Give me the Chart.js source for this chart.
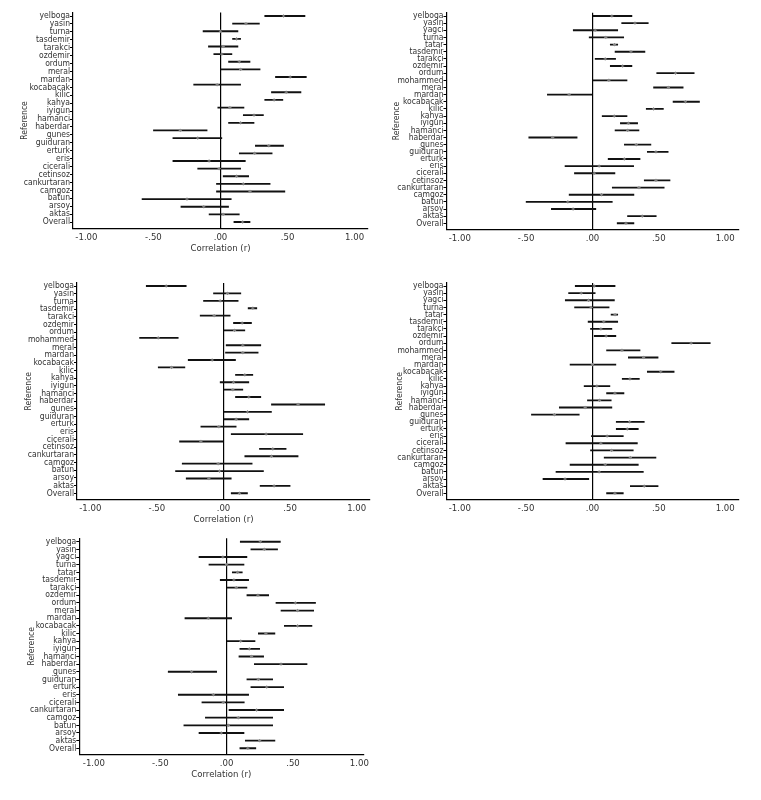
<!DOCTYPE html>
<html>
<head>
<meta charset="utf-8">
<script src="https://cdn.jsdelivr.net/npm/chart.js@4.4.0/dist/chart.umd.min.js"></script>
<style>
  body { margin: 0; background: #fff; width: 761px; height: 800px; position: relative; overflow: hidden; }
  canvas { position: absolute; }
</style>
</head>
<body>
<canvas id="p1"></canvas>
<canvas id="p2"></canvas>
<canvas id="p3"></canvas>
<canvas id="p4"></canvas>
<canvas id="p5"></canvas>
<script>
const xTickValues = [-1, -0.5, 0, 0.5, 1];
const xTickLabels = ["-1.00", "-.50", ".00", ".50", "1.00"];

// panel 1 (top left): one more row of estimates than labels, as in the figure
const labels1 = ["yelboga", "yasin", "turna", "tasdemir", "tarakci", "ozdemir", "ordum", "meral", "mardan",
  "kocabacak", "kilic", "kahya", "iyigun", "hamanci", "haberdar", "gunes", "guiduran", "erturk", "eris",
  "cicerali", "cetinsoz", "cankurtaran", "camgoz", "batun", "arsoy", "aktas", "Overall"];
const est1 = [0.47, 0.19, 0.00, 0.12, 0.02, 0.01, 0.14, 0.15, 0.52, -0.025, 0.49, 0.40, 0.07, 0.25, 0.15,
  -0.30, -0.17, 0.36, 0.255, -0.085, -0.01, 0.12, 0.17, 0.22, -0.25, -0.125, 0.02, 0.165];
const lo1 = [0.33, 0.09, -0.13, 0.09, -0.09, -0.05, 0.06, 0.00, 0.41, -0.20, 0.38, 0.33, -0.02, 0.17, 0.06,
  -0.50, -0.355, 0.26, 0.14, -0.355, -0.17, 0.02, -0.03, -0.03, -0.585, -0.295, -0.085, 0.10];
const hi1 = [0.63, 0.29, 0.13, 0.15, 0.13, 0.085, 0.22, 0.295, 0.64, 0.15, 0.60, 0.465, 0.175, 0.32, 0.25,
  -0.10, 0.01, 0.47, 0.385, 0.185, 0.15, 0.21, 0.37, 0.48, 0.08, 0.06, 0.14, 0.22];

// panel 2 (top right)
const labels2 = ["yelboga", "yasin", "yagci", "turna", "tatar", "tasdemir", "tarakci", "ozdemir", "ordum",
  "mohammed", "meral", "mardan", "kocabacak", "kilic", "kahya", "iyigun", "hamanci", "haberdar", "gunes",
  "guiduran", "erturk", "eris", "cicerali", "cetinsoz", "cankurtaran", "camgoz", "batun", "arsoy", "aktas", "Overall"];
const est2 = [0.146, 0.32, 0.02, 0.10, 0.166, 0.29, 0.096, 0.227, 0.625, 0.123, 0.572, -0.176, 0.70, 0.46,
  0.164, 0.27, 0.265, -0.30, 0.33, 0.478, 0.24, 0.05, 0.013, 0.478, 0.35, 0.068, -0.186, -0.146, 0.375, 0.252];
const lo2 = [0.00, 0.22, -0.145, -0.025, 0.134, 0.17, 0.02, 0.134, 0.484, 0.00, 0.46, -0.34, 0.607, 0.405,
  0.073, 0.21, 0.17, -0.48, 0.24, 0.413, 0.118, -0.207, -0.136, 0.39, 0.149, -0.176, -0.50, -0.31, 0.264, 0.186];
const hi2 = [0.297, 0.42, 0.19, 0.235, 0.19, 0.395, 0.174, 0.297, 0.766, 0.26, 0.683, 0.00, 0.806, 0.534,
  0.26, 0.34, 0.35, -0.116, 0.44, 0.57, 0.358, 0.31, 0.169, 0.584, 0.54, 0.312, 0.149, 0.025, 0.48, 0.312];

// panel 3 (middle left): one more row of estimates than labels
const labels3 = ["yelboga", "yasin", "turna", "tasdemir", "tarakci", "ozdemir", "ordum", "mohammed", "meral",
  "mardan", "kocabacak", "kilic", "kahya", "iyigun", "hamanci", "haberdar", "gunes", "guiduran", "erturk",
  "eris", "cicerali", "cetinsoz", "cankurtaran", "camgoz", "batun", "arsoy", "aktas", "Overall"];
const est3 = [-0.43, 0.03, -0.025, 0.22, -0.07, 0.14, 0.083, -0.49, 0.145, 0.145, -0.085, -0.39, 0.16, 0.075,
  0.07, 0.19, 0.56, 0.18, 0.095, -0.035, 0.32, -0.17, 0.37, 0.36, -0.04, -0.03, -0.11, 0.38, 0.12];
const lo3 = [-0.58, -0.075, -0.15, 0.185, -0.175, 0.075, 0.00, -0.63, 0.02, 0.015, -0.265, -0.49, 0.09, -0.025,
  0.00, 0.09, 0.36, 0.00, 0.00, -0.17, 0.058, -0.33, 0.27, 0.16, -0.31, -0.36, -0.28, 0.275, 0.058];
const hi3 = [-0.28, 0.13, 0.11, 0.25, 0.05, 0.21, 0.16, -0.34, 0.28, 0.26, 0.09, -0.29, 0.22, 0.19,
  0.145, 0.28, 0.76, 0.36, 0.19, 0.095, 0.595, 0.00, 0.47, 0.56, 0.215, 0.30, 0.058, 0.50, 0.18];

// panel 4 (middle right)
const labels4 = labels2;
const est4 = [0.013, -0.085, -0.03, -0.01, 0.17, 0.085, 0.063, 0.103, 0.743, 0.222, 0.385, 0.00, 0.514, 0.282,
  0.033, 0.169, 0.053, -0.055, -0.287, 0.28, 0.262, 0.11, 0.063, 0.144, 0.285, 0.096, 0.05, -0.207, 0.39, 0.169];
const lo4 = [-0.13, -0.18, -0.205, -0.135, 0.14, -0.033, -0.015, 0.013, 0.597, 0.106, 0.27, -0.169, 0.413, 0.224,
  -0.063, 0.106, -0.038, -0.25, -0.46, 0.179, 0.179, -0.008, -0.20, -0.015, 0.088, -0.169, -0.275, -0.373, 0.285, 0.106];
const hi4 = [0.17, 0.02, 0.165, 0.125, 0.19, 0.19, 0.146, 0.176, 0.887, 0.358, 0.494, 0.176, 0.615, 0.353,
  0.131, 0.237, 0.141, 0.146, -0.10, 0.39, 0.345, 0.232, 0.338, 0.307, 0.478, 0.345, 0.383, -0.028, 0.494, 0.232];

// panel 5 (bottom left)
const labels5 = ["yelboga", "yasin", "yagci", "turna", "tatar", "tasdemir", "tarakci", "ozdemir", "ordum",
  "meral", "mardan", "kocabacak", "kilic", "kahya", "iyigun", "hamanci", "haberdar", "gunes", "guiduran",
  "erturk", "eris", "cicerali", "cankurtaran", "camgoz", "batun", "arsoy", "aktas", "Overall"];
const est5 = [0.254, 0.284, -0.028, 0.00, 0.083, 0.055, 0.073, 0.236, 0.518, 0.535, -0.138, 0.535, 0.296, 0.106,
  0.171, 0.188, 0.41, -0.264, 0.239, 0.302, -0.10, -0.025, 0.226, 0.088, 0.013, -0.04, 0.249, 0.16];
const lo5 = [0.103, 0.183, -0.208, -0.133, 0.043, -0.048, 0.00, 0.153, 0.372, 0.41, -0.314, 0.435, 0.239, 0.00,
  0.10, 0.093, 0.209, -0.44, 0.153, 0.183, -0.364, -0.186, 0.018, -0.16, -0.322, -0.208, 0.141, 0.10];
const hi5 = [0.405, 0.384, 0.153, 0.131, 0.118, 0.166, 0.153, 0.317, 0.67, 0.656, 0.038, 0.643, 0.364, 0.214,
  0.249, 0.279, 0.606, -0.075, 0.347, 0.43, 0.166, 0.133, 0.43, 0.347, 0.347, 0.131, 0.364, 0.22];

const FONT = "'Liberation Sans Narrow', 'Arial Narrow', 'DejaVu Sans Condensed', sans-serif";
Chart.defaults.font.family = FONT;
Chart.defaults.color = "#333";

const panels = [
  { id: "p1", labels: labels1, est: est1, lo: lo1, hi: hi1,
    box: { left: 0, top: 0, w: 380, h: 262 }, area: { left: 73, right: 368, top: 12.5, bottom: 228.3 },
    rows: [16, 222], xRange: [-1.1, 1.1], yTitleX: 25, xTitleY: 249 },
  { id: "p2", labels: labels2, est: est2, lo: lo2, hi: hi2,
    box: { left: 380, top: 0, w: 381, h: 262 }, area: { left: 66.5, right: 358.5, top: 12.7, bottom: 229.3 },
    rows: [16, 223.3], xRange: [-1.1, 1.1], yTitleX: 17, xTitleY: null },
  { id: "p3", labels: labels3, est: est3, lo: lo3, hi: hi3,
    box: { left: 0, top: 270, w: 380, h: 262 }, area: { left: 77, right: 370, top: 13, bottom: 229.3 },
    rows: [16, 223.3], xRange: [-1.1, 1.1], yTitleX: 29, xTitleY: 250 },
  { id: "p4", labels: labels4, est: est4, lo: lo4, hi: hi4,
    box: { left: 380, top: 270, w: 381, h: 262 }, area: { left: 66.5, right: 358.5, top: 13, bottom: 229.3 },
    rows: [16, 223.3], xRange: [-1.1, 1.1], yTitleX: 20, xTitleY: null },
  { id: "p5", labels: labels5, est: est5, lo: lo5, hi: hi5,
    box: { left: 0, top: 525, w: 380, h: 275 }, area: { left: 79.3, right: 363.3, top: 13.3, bottom: 229.3 },
    rows: [16.7, 223.3], xRange: [-1.11, 1.03], yTitleX: 31.5, xTitleY: 250 },
];

function buildPanel(p) {
  const cv = document.getElementById(p.id);
  cv.width = p.box.w;
  cv.height = p.box.h;
  cv.style.left = p.box.left + "px";
  cv.style.top = p.box.top + "px";
  cv.style.width = p.box.w + "px";
  cv.style.height = p.box.h + "px";

  const n = p.est.length;
  const m = p.labels.length;
  const [r0, r1] = p.rows;
  const step = (r1 - r0) / (n - 1);
  const yMin = -(r0 - p.area.top) / step;
  const yMax = (n - 1) + (p.area.bottom - r1) / step;
  const lstep = (r1 - r0) / (m - 1);
  const lMin = -(r0 - p.area.top) / lstep;
  const lMax = (m - 1) + (p.area.bottom - r1) / lstep;

  const titleSize = 9.5;
  const lh = titleSize * 1.2;

  new Chart(cv, {
    type: "bar",
    data: {
      datasets: [
        {
          type: "bar",
          data: p.lo.map((l, i) => ({ y: i, x: [l, p.hi[i]] })),
          backgroundColor: "#111",
          barThickness: 1.2,
          xAxisID: "x",
          yAxisID: "y",
          order: 2,
        },
        {
          type: "scatter",
          data: p.est.map((v, i) => ({ x: v, y: i })),
          pointStyle: "cross",
          radius: 1.6,
          borderColor: "#8a8a8a",
          borderWidth: 1,
          xAxisID: "x",
          yAxisID: "y",
          order: 1,
        },
      ],
    },
    options: {
      indexAxis: "y",
      responsive: false,
      animation: false,
      events: [],
      layout: { padding: { left: 0, top: p.area.top, right: p.box.w - p.area.right, bottom: 0 } },
      plugins: { legend: { display: false }, tooltip: { enabled: false } },
      scales: {
        x: {
          type: "linear",
          position: "bottom",
          min: p.xRange[0],
          max: p.xRange[1],
          offset: false,
          afterBuildTicks: (s) => { s.ticks = xTickValues.map((v) => ({ value: v })); },
          ticks: {
            callback: (v) => xTickLabels[xTickValues.indexOf(v)],
            font: { size: 9.5 },
            color: "#333",
            padding: 4,
            maxRotation: 0,
            autoSkip: false,
          },
          grid: {
            offset: false,
            drawTicks: false,
            color: (ctx) => (ctx.tick && ctx.tick.value === 0 ? "#000" : "rgba(0,0,0,0)"),
            lineWidth: 1.2,
          },
          border: { color: "#000", width: 1.2 },
          title: {
            display: p.xTitleY !== null,
            text: "Correlation (r)",
            font: { size: titleSize },
            color: "#333",
            padding: { top: 0, bottom: p.xTitleY !== null ? p.box.h - p.xTitleY - lh / 2 : 0 },
          },
          afterFit: (s) => {
            s.height = p.box.h - p.area.bottom;
            s.paddingLeft = 0;
            s.paddingRight = 0;
          },
        },
        y: {
          type: "linear",
          display: false,
          reverse: true,
          min: yMin,
          max: yMax,
          offset: false,
        },
        yl: {
          type: "linear",
          axis: "y",
          position: "left",
          reverse: true,
          min: lMin,
          max: lMax,
          offset: false,
          afterBuildTicks: (s) => { s.ticks = p.labels.map((_, i) => ({ value: i })); },
          ticks: {
            callback: (v) => p.labels[v],
            font: { size: 8.5 },
            color: "#333",
            padding: 0,
            autoSkip: false,
          },
          grid: { offset: false, drawOnChartArea: false, tickLength: 3, color: "#000", lineWidth: 1 },
          border: { color: "#000", width: 1.2 },
          title: {
            display: true,
            text: "Reference",
            font: { size: 8.5 },
            color: "#333",
            padding: { top: p.yTitleX - (8.5 * 1.2) / 2, bottom: 0 },
          },
          afterFit: (s) => {
            s.width = p.area.left;
            s.paddingTop = 0;
            s.paddingBottom = 0;
          },
        },
      },
    },
  });
}

panels.forEach(buildPanel);
</script>
</body>
</html>
